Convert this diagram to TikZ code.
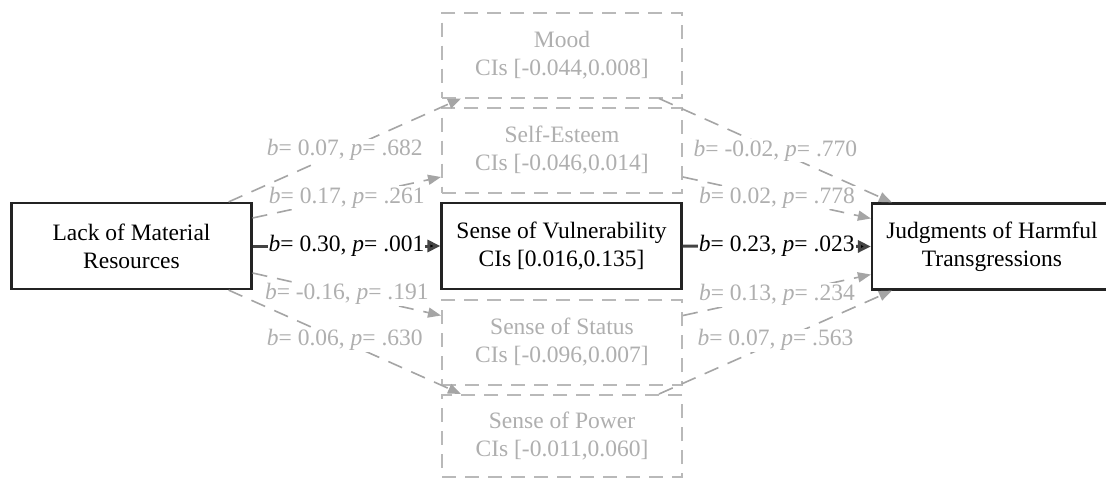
\documentclass[tikz,border=0pt]{standalone}
\usepackage{fontspec}
\setmainfont{Liberation Serif}
\usetikzlibrary{arrows.meta}
\definecolor{lineg}{RGB}{165,165,165}
\definecolor{textg}{RGB}{175,175,175}
\definecolor{boxg}{RGB}{185,185,185}
\definecolor{darkc}{RGB}{35,35,35}
\newcommand{\bp}[2]{\textit{b}= #1, \textit{p}= #2}
\begin{document}
\begin{tikzpicture}[x=1pt,y=-1pt,
  font=\fontsize{23.5}{28}\selectfont,
  solidbox/.style={draw=darkc, line width=2.2pt, fill=white, minimum width=240pt, minimum height=86pt, inner sep=0pt, align=center},
  dashbox/.style={draw=boxg, line width=2pt, dash pattern=on 14pt off 9pt, minimum width=240pt, minimum height=85pt, inner sep=0pt, align=center, text=textg},
  grayarrow/.style={draw=lineg, line width=1.6pt, dash pattern=on 15pt off 10pt, -{Triangle[length=13pt,width=10pt,fill=lineg]}},
  blackarrow/.style={draw=darkc!85, line width=3pt, -{Triangle[length=13pt,width=12pt,fill=black]}},
  lab/.style={fill=white, inner sep=1pt, text=textg},
  blab/.style={fill=white, inner sep=1pt, text=black}]
\clip (0,0) rectangle (1106,479);
\fill[white] (0,0) rectangle (1106,479);

\node[solidbox] (lack) at (131.5,246) {Lack of Material\\Resources};
\node[solidbox] (vul) at (561.5,246) {Sense of Vulnerability\\CIs [0.016,0.135]};
\node[solidbox] (judg) at (992,246.5) {Judgments of Harmful\\Transgressions};

\node[dashbox] (mood) at (562,55) {Mood\\CIs [-0.044,0.008]};
\node[dashbox] (self) at (562,150) {Self-Esteem\\CIs [-0.046,0.014]};
\node[dashbox] (status) at (562,342.5) {Sense of Status\\CIs [-0.096,0.007]};
\node[dashbox, minimum height=82pt] (power) at (562,436) {Sense of Power\\CIs [-0.011,0.060]};

% left paths
\draw[grayarrow] ([xshift=-24pt]lack.north east) -- ([xshift=20pt]mood.south west)
  node[lab, midway] (l1) {\bp{0.07}{.682}};
\draw[grayarrow] ([yshift=28pt]lack.east) -- ([yshift=-27pt]self.west)
  node[lab, midway] (l2) {\bp{0.17}{.261}};
\draw[blackarrow] (lack.east) -- (vul.west)
  node[blab, midway] (l3) {\bp{0.30}{.001}};
\draw[grayarrow] ([yshift=-27pt]lack.east) -- ([yshift=27pt]status.west)
  node[lab, midway] (l4) {\bp{-0.16}{.191}};
\draw[grayarrow] ([xshift=-24pt]lack.south east) -- ([xshift=20pt]power.north west)
  node[lab, midway, yshift=2pt] (l5) {\bp{0.06}{.630}};

% right paths
\draw[grayarrow] ([xshift=-24pt]mood.south east) -- ([xshift=21pt]judg.north west)
  node[lab, midway] (r1) {\bp{-0.02}{.770}};
\draw[grayarrow] ([yshift=-27pt]self.east) -- ([yshift=28pt]judg.west)
  node[lab, midway] (r2) {\bp{0.02}{.778}};
\draw[blackarrow] (vul.east) -- (judg.west)
  node[blab, midway] (r3) {\bp{0.23}{.023}};
\draw[grayarrow] ([yshift=27pt]status.east) -- ([yshift=-28pt]judg.west)
  node[lab, midway] (r4) {\bp{0.13}{.234}};
\draw[grayarrow] ([xshift=-24pt]power.north east) -- ([xshift=21pt]judg.south west)
  node[lab, midway, yshift=2pt] (r5) {\bp{0.07}{.563}};
\end{tikzpicture}
\end{document}
